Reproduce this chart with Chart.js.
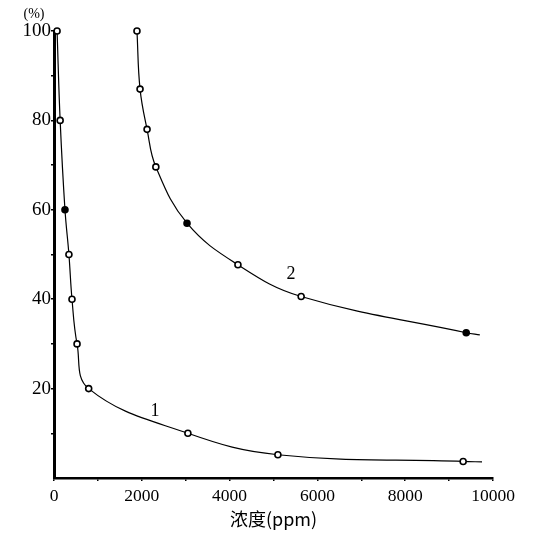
<!DOCTYPE html>
<html>
<head>
<meta charset="utf-8">
<script src="https://cdn.jsdelivr.net/npm/chart.js@4/dist/chart.umd.min.js"></script>
<style>
  html, body { margin: 0; padding: 0; background: #fff; }
  #wrap { width: 534px; height: 534px; position: relative; }
</style>
</head>
<body>
<div id="wrap"><canvas id="c" width="534" height="534"></canvas></div>
<script>
// ─── Data ───────────────────────────────────────────────────────────────────
const xTicks = [0, 1000, 2000, 3000, 4000, 5000, 6000, 7000, 8000, 9000, 10000];
const xLabels = [0, 2000, 4000, 6000, 8000, 10000];
const yTicks = [10, 20, 30, 40, 50, 60, 70, 80, 90, 100];
const yLabels = [20, 40, 60, 80, 100];

// curve 1
const conc1 = [70, 140, 250, 340, 410, 525, 790, 3050, 5100, 9320, 9750];
const pct1 = [100, 80, 60, 50, 40, 30, 20, 10, 5.2, 3.7, 3.6];
const filled1 = [false, false, true, false, false, false, false, false, false, false, null];

// curve 2
const conc2 = [1890, 1960, 2120, 2320, 3030, 4190, 5630, 9390, 9700];
const pct2 = [100, 87, 78, 69.6, 57, 47.7, 40.6, 32.5, 32];
const filled2 = [false, false, false, false, true, false, false, true, null];

const curveLabels = [
  { text: '1', x: 2300, y: 15 },
  { text: '2', x: 5400, y: 45.5 },
];

const serif = '"Liberation Serif", "DejaVu Serif", serif';
const cjk = '"Noto Sans CJK SC", "Noto Sans", sans-serif';

function series(xs, ys, filled) {
  return {
    data: xs.map((x, i) => ({ x, y: ys[i] })),
    showLine: true,
    borderColor: '#000',
    borderWidth: 1.2,
    tension: 0.4,
    pointRadius: filled.map(f => (f === null ? 0 : 3)),
    pointBackgroundColor: filled.map(f => (f ? '#000' : '#fff')),
    pointBorderColor: '#000',
    pointBorderWidth: 1.6,
    clip: false,
  };
}

// ─── Extra text (unit + curve numbers) ─────────────────────────────────────
const annotate = {
  id: 'annotate',
  afterDraw(chart) {
    const { ctx, scales: { x, y } } = chart;
    ctx.save();
    ctx.fillStyle = '#000';
    ctx.font = '14px ' + serif;
    ctx.textAlign = 'center';
    ctx.textBaseline = 'middle';
    ctx.fillText('(%)', 34, 14);
    ctx.font = '18px ' + serif;
    curveLabels.forEach(l => ctx.fillText(l.text, x.getPixelForValue(l.x), y.getPixelForValue(l.y)));
    ctx.restore();
  },
};

const tickGrid = { drawOnChartArea: false, drawTicks: true, tickLength: 3, color: '#000', lineWidth: 1.5 };

new Chart(document.getElementById('c'), {
  type: 'scatter',
  data: { datasets: [series(conc1, pct1, filled1), series(conc2, pct2, filled2)] },
  options: {
    responsive: false,
    animation: false,
    layout: { padding: { top: 31, right: 41, left: 0, bottom: 0 } },
    plugins: { legend: { display: false }, tooltip: { enabled: false } },
    scales: {
      x: {
        type: 'linear',
        min: 0,
        max: 10000,
        afterBuildTicks: s => { s.ticks = xTicks.map(v => ({ value: v })); },
        afterFit: s => { s.height = 56; },
        grid: tickGrid,
        border: { color: '#000', width: 2.5 },
        ticks: {
          color: '#000', font: { family: serif, size: 17.5 }, padding: 5, maxRotation: 0, autoSkip: false,
          callback: v => (xLabels.includes(v) ? String(v) : ''),
        },
        title: { display: true, text: '浓度(ppm)', color: '#000', font: { family: cjk, size: 18 }, padding: { top: 3 } },
      },
      y: {
        min: 0,
        max: 100,
        afterBuildTicks: s => { s.ticks = yTicks.map(v => ({ value: v })); },
        afterFit: s => { s.width = 54; },
        grid: tickGrid,
        border: { color: '#000', width: 3 },
        ticks: {
          color: '#000', font: { family: serif, size: 19 }, padding: 0, autoSkip: false,
          callback: v => (yLabels.includes(v) ? String(v) : ''),
        },
      },
    },
  },
  plugins: [annotate],
});
</script>
</body>
</html>
